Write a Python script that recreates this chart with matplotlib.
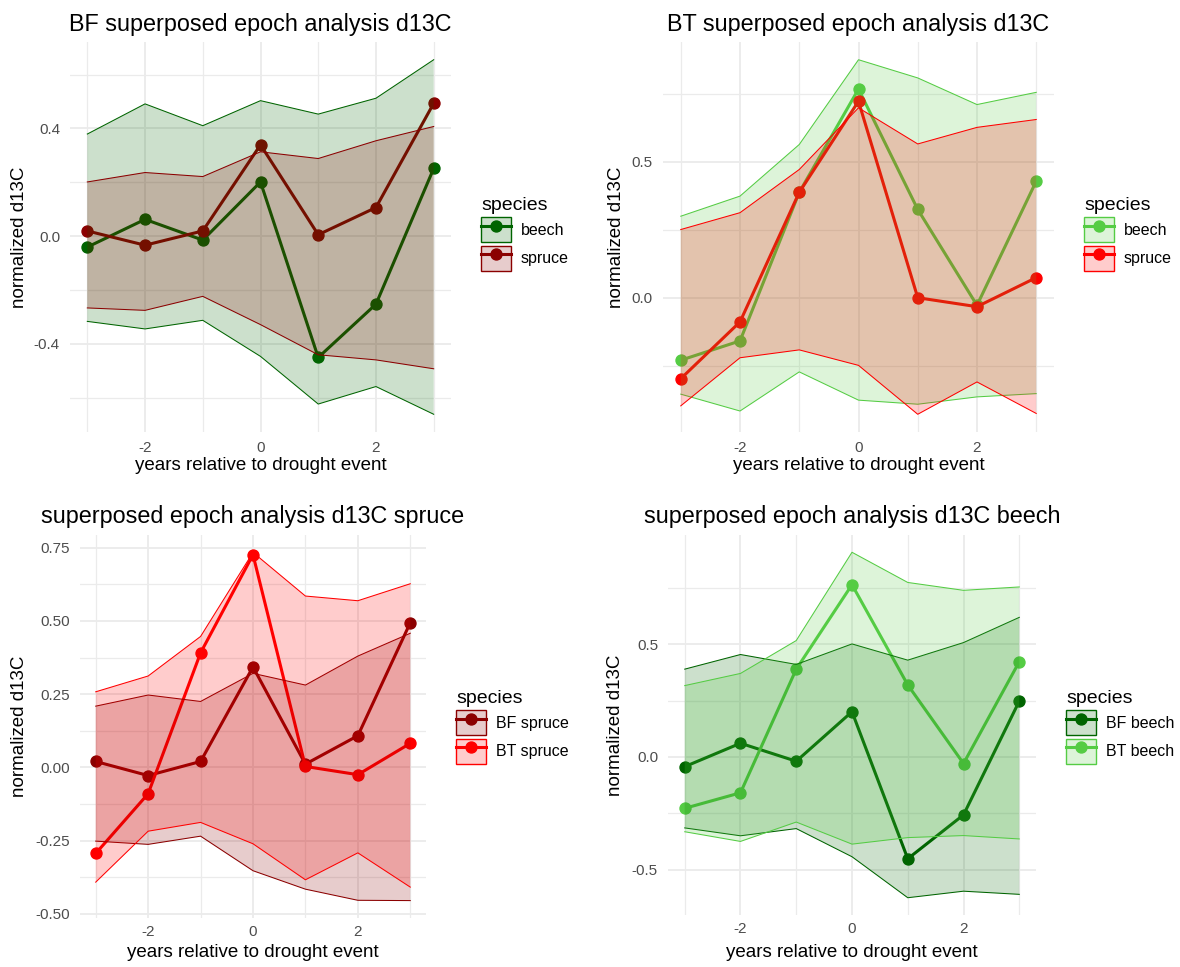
import matplotlib
matplotlib.use('Agg')
import matplotlib.pyplot as plt
import matplotlib.transforms as mtransforms
from matplotlib.patches import Patch
from matplotlib.lines import Line2D
from matplotlib.legend_handler import HandlerTuple
from matplotlib.colors import to_rgba
import numpy as np

plt.rcParams['font.family'] = ['Liberation Sans', 'DejaVu Sans']
plt.rcParams['axes.unicode_minus'] = False

# ---------------- data ----------------
years = [-3, -2, -1, 0, 1, 2, 3]
x_major = [-2, 0, 2]
x_minor = [-3, -1, 1, 3]

# Panel 1: BF
bf_beech_mean_p1 = [-0.041, 0.062, -0.015, 0.201, -0.451, -0.253, 0.251]
bf_beech_upper_p1 = [0.379, 0.491, 0.410, 0.503, 0.453, 0.512, 0.655]
bf_beech_lower_p1 = [-0.317, -0.345, -0.313, -0.447, -0.624, -0.559, -0.662]
bf_spruce_mean_p1 = [0.019, -0.034, 0.019, 0.339, 0.005, 0.106, 0.493]
bf_spruce_upper_p1 = [0.201, 0.236, 0.221, 0.313, 0.288, 0.354, 0.407]
bf_spruce_lower_p1 = [-0.267, -0.276, -0.224, -0.329, -0.441, -0.460, -0.493]

# Panel 2: BT
bt_beech_mean_p2 = [-0.230, -0.159, 0.388, 0.768, 0.325, -0.028, 0.429]
bt_beech_upper_p2 = [0.300, 0.374, 0.564, 0.876, 0.809, 0.711, 0.756]
bt_beech_lower_p2 = [-0.355, -0.417, -0.273, -0.377, -0.392, -0.365, -0.353]
bt_spruce_mean_p2 = [-0.298, -0.089, 0.388, 0.723, 0.000, -0.033, 0.074]
bt_spruce_upper_p2 = [0.251, 0.313, 0.472, 0.699, 0.566, 0.627, 0.656]
bt_spruce_lower_p2 = [-0.398, -0.221, -0.192, -0.249, -0.429, -0.310, -0.426]

# Panel 3: spruce
bf_spruce_mean_p3 = [0.020, -0.028, 0.020, 0.343, 0.011, 0.108, 0.494]
bf_spruce_upper_p3 = [0.209, 0.247, 0.225, 0.321, 0.281, 0.380, 0.458]
bf_spruce_lower_p3 = [-0.252, -0.263, -0.235, -0.353, -0.416, -0.454, -0.455]
bt_spruce_mean_p3 = [-0.294, -0.090, 0.391, 0.726, 0.003, -0.025, 0.082]
bt_spruce_upper_p3 = [0.258, 0.312, 0.447, 0.734, 0.585, 0.569, 0.627]
bt_spruce_lower_p3 = [-0.392, -0.218, -0.188, -0.261, -0.384, -0.292, -0.409]

# Panel 4: beech
bf_beech_mean_p4 = [-0.043, 0.061, -0.019, 0.201, -0.452, -0.257, 0.248]
bf_beech_upper_p4 = [0.390, 0.455, 0.411, 0.502, 0.430, 0.508, 0.620]
bf_beech_lower_p4 = [-0.315, -0.350, -0.318, -0.443, -0.625, -0.596, -0.610]
bt_beech_mean_p4 = [-0.228, -0.159, 0.390, 0.765, 0.320, -0.029, 0.423]
bt_beech_upper_p4 = [0.317, 0.371, 0.517, 0.909, 0.775, 0.740, 0.755]
bt_beech_lower_p4 = [-0.332, -0.375, -0.289, -0.387, -0.358, -0.349, -0.364]

titles = ["BF superposed epoch analysis d13C",
          "BT superposed epoch analysis d13C",
          "superposed epoch analysis d13C spruce",
          "superposed epoch analysis d13C beech"]
labels_p12 = ["beech", "spruce"]
labels_p3 = ["BF spruce", "BT spruce"]
labels_p4 = ["BF beech", "BT beech"]

yticks_p1 = [-0.4, 0.0, 0.4]
yticklabels_p1 = ["-0.4", "0.0", "0.4"]
yminor_p1 = [-0.6, -0.2, 0.2, 0.6]
yticks_p2 = [0.0, 0.5]
yticklabels_p2 = ["0.0", "0.5"]
yminor_p2 = [-0.25, 0.25, 0.75]
yticks_p3 = [-0.5, -0.25, 0.0, 0.25, 0.5, 0.75]
yticklabels_p3 = ["-0.50", "-0.25", "0.00", "0.25", "0.50", "0.75"]
yminor_p3 = [-0.375, -0.125, 0.125, 0.375, 0.625]
yticks_p4 = [-0.5, 0.0, 0.5]
yticklabels_p4 = ["-0.5", "0.0", "0.5"]
yminor_p4 = [-0.25, 0.25, 0.75]

C_BF_BEECH = "#006400"
C_BF_SPRUCE = "#8B0000"
C_BT_BEECH = "#55CC44"
C_BT_SPRUCE = "#FF0000"

# ---------------- layout ----------------
W, H = 1180, 967
fig = plt.figure(figsize=(W / 100, H / 100), dpi=100)


def rect(l, t, r, b):
    return [l / W, 1 - b / H, (r - l) / W, (b - t) / H]


panels = [
    dict(box=(70, 42, 451, 432), title=titles[0],
         series=[(bf_beech_mean_p1, bf_beech_lower_p1, bf_beech_upper_p1, C_BF_BEECH, labels_p12[0]),
                 (bf_spruce_mean_p1, bf_spruce_lower_p1, bf_spruce_upper_p1, C_BF_SPRUCE, labels_p12[1])],
         yt=yticks_p1, ytl=yticklabels_p1, ym=yminor_p1, leg=(481, 197), ylab=21, xlab=457,
         title_y=24, xpad=6.5),
    dict(box=(663, 42, 1054, 432), title=titles[1],
         series=[(bt_beech_mean_p2, bt_beech_lower_p2, bt_beech_upper_p2, C_BT_BEECH, labels_p12[0]),
                 (bt_spruce_mean_p2, bt_spruce_lower_p2, bt_spruce_upper_p2, C_BT_SPRUCE, labels_p12[1])],
         yt=yticks_p2, ytl=yticklabels_p2, ym=yminor_p2, leg=(1084, 197), ylab=618, xlab=457,
         title_y=24, xpad=6.5),
    dict(box=(80, 535, 426, 918), title=titles[2],
         series=[(bf_spruce_mean_p3, bf_spruce_lower_p3, bf_spruce_upper_p3, C_BF_SPRUCE, labels_p3[0]),
                 (bt_spruce_mean_p3, bt_spruce_lower_p3, bt_spruce_upper_p3, C_BT_SPRUCE, labels_p3[1])],
         yt=yticks_p3, ytl=yticklabels_p3, ym=yminor_p3, leg=(456, 690), ylab=21, xlab=944,
         title_y=517, xpad=5.0),
    dict(box=(668, 535, 1036, 915), title=titles[3],
         series=[(bf_beech_mean_p4, bf_beech_lower_p4, bf_beech_upper_p4, C_BF_BEECH, labels_p4[0]),
                 (bt_beech_mean_p4, bt_beech_lower_p4, bt_beech_upper_p4, C_BT_BEECH, labels_p4[1])],
         yt=yticks_p4, ytl=yticklabels_p4, ym=yminor_p4, leg=(1066, 690), ylab=617, xlab=944,
         title_y=517, xpad=5.0),
]

GRID = "#EBEBEB"
TICKC = "#4D4D4D"

for p in panels:
    l, t, r, b = p["box"]
    ax = fig.add_axes(rect(l, t, r, b))
    for s in ax.spines.values():
        s.set_visible(False)
    ax.set_facecolor("white")

    allv = []
    handles = []
    for mean, lo, up, col, lab in p["series"]:
        ax.plot(years, mean, color=col, lw=2.2, zorder=3, solid_capstyle='round')
        ax.plot(years, mean, 'o', color=col, ms=7.9, zorder=3)
        allv += list(lo) + list(up) + list(mean)
        handles.append((Patch(facecolor=to_rgba(col, 0.2), edgecolor=col, linewidth=1.0),
                        Line2D([], [], color=col, lw=2.2, marker='o', ms=7.9)))
    for mean, lo, up, col, lab in p["series"]:
        ax.fill_between(years, lo, up, facecolor=to_rgba(col, 0.2), edgecolor='none', zorder=4)
        ax.plot(years, up, color=col, lw=0.75, zorder=4)
        ax.plot(years, lo, color=col, lw=0.75, zorder=4)

    ymin, ymax = min(allv), max(allv)
    pad = (ymax - ymin) * 0.05
    ax.set_ylim(ymin - pad, ymax + pad)
    ax.set_xlim(years[0] - 0.3, years[-1] + 0.3)

    ax.set_xticks(x_major)
    ax.set_xticklabels([str(v) for v in x_major])
    ax.set_xticks(x_minor, minor=True)
    ax.set_yticks(p["yt"])
    ax.set_yticklabels(p["ytl"])
    ax.set_yticks(p["ym"], minor=True)
    ax.tick_params(which='both', length=0)
    ax.tick_params(axis='x', pad=p["xpad"], labelsize=11, labelcolor=TICKC)
    ax.tick_params(axis='y', pad=7.2, labelsize=11, labelcolor=TICKC)
    ax.grid(which='major', color=GRID, lw=1.3, zorder=0)
    ax.grid(which='minor', color=GRID, lw=0.9, zorder=0)
    ax.set_axisbelow(True)

    ax.set_xlabel("years relative to drought event", fontsize=13.5)
    ax.set_ylabel("normalized d13C", fontsize=13.5)
    ax.xaxis.set_label_coords(0.5, 1 - p["xlab"] / H,
                              transform=mtransforms.blended_transform_factory(ax.transAxes, fig.transFigure))
    ax.yaxis.set_label_coords((p["ylab"] + 7) / W, 0.5,
                              transform=mtransforms.blended_transform_factory(fig.transFigure, ax.transAxes))

    fig.text((l + r) / 2 / W, 1 - p["title_y"] / H, p["title"], fontsize=16.8,
             ha='center', va='center', color='black')

    leg = ax.legend(handles, [s[4] for s in p["series"]],
                    handler_map={tuple: HandlerTuple(ndivide=1, pad=0)},
                    title="species", title_fontsize=14, fontsize=11.5,
                    loc='upper left', bbox_to_anchor=(p["leg"][0] / W, 1 - p["leg"][1] / H),
                    bbox_transform=fig.transFigure, frameon=False, borderpad=0,
                    handlelength=1.9, handleheight=2.05, handletextpad=0.6,
                    labelspacing=0.2, alignment='left', borderaxespad=0)

fig.savefig("out.png", dpi=100, facecolor='white')
